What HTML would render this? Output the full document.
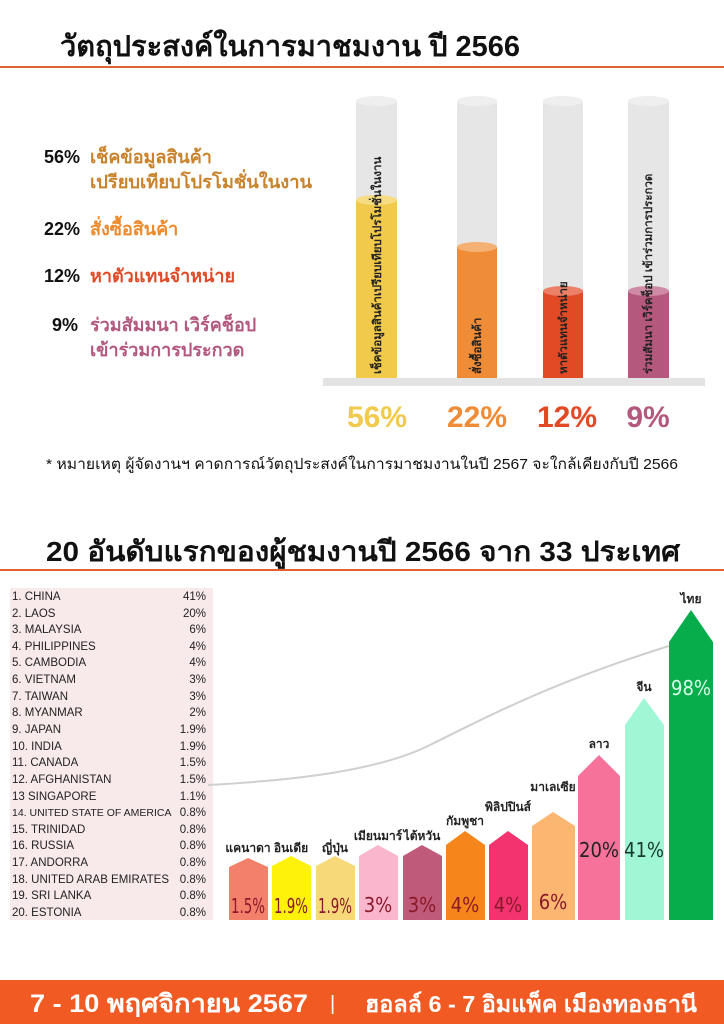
<!DOCTYPE html>
<html><head><meta charset="utf-8"><style>
body{margin:0;width:724px;height:1024px;background:#fff;overflow:hidden;font-family:"Liberation Sans","Noto Sans CJK SC",sans-serif}
svg{display:block}
</style></head><body>
<svg width="724" height="1024" viewBox="0 0 724 1024" xmlns="http://www.w3.org/2000/svg" font-family="'Liberation Sans','Noto Sans CJK SC',sans-serif">
<text x="60" y="56" font-size="29" font-weight="bold" fill="#111" textLength="460" lengthAdjust="spacingAndGlyphs">วัตถุประสงค์ในการมาชมงาน ปี 2566</text>
<rect x="0" y="66" width="724" height="2" fill="#e0622e"/>
<g font-size="18" font-weight="bold">
<text x="44" y="163" fill="#111">56%</text><text x="90" y="163" fill="#c9832c">เช็คข้อมูลสินค้า</text>
<text x="90" y="188" fill="#c9832c" textLength="222" lengthAdjust="spacingAndGlyphs">เปรียบเทียบโปรโมชั่นในงาน</text>
<text x="44" y="235" fill="#111">22%</text><text x="90" y="235" fill="#ec8a2c">สั่งซื้อสินค้า</text>
<text x="44" y="282" fill="#111">12%</text><text x="90" y="282" fill="#e04a26">หาตัวแทนจำหน่าย</text>
<text x="52" y="331" fill="#111">9%</text><text x="90" y="331" fill="#b3587f">ร่วมสัมมนา เวิร์คช็อป</text>
<text x="90" y="356" fill="#b3587f">เข้าร่วมการประกวด</text>
</g>
<g>
<rect x="356" y="101" width="41" height="277" fill="#e6e6e6"/><ellipse cx="376.5" cy="101" rx="20.5" ry="5" fill="#efefef"/>
<rect x="356" y="200" width="41" height="178" fill="#f1c94b"/><ellipse cx="376.5" cy="200" rx="20.5" ry="5" fill="#f6dc82"/>
<rect x="457" y="101" width="40" height="277" fill="#e6e6e6"/><ellipse cx="477" cy="101" rx="20" ry="5" fill="#efefef"/>
<rect x="457" y="247" width="40" height="131" fill="#ef8c37"/><ellipse cx="477" cy="247" rx="20" ry="5" fill="#f5b074"/>
<rect x="543" y="101" width="40" height="277" fill="#e6e6e6"/><ellipse cx="563" cy="101" rx="20" ry="5" fill="#efefef"/>
<rect x="543" y="291" width="40" height="87" fill="#e24a26"/><ellipse cx="563" cy="291" rx="20" ry="5" fill="#ec8066"/>
<rect x="628" y="101" width="41" height="277" fill="#e6e6e6"/><ellipse cx="648.5" cy="101" rx="20.5" ry="5" fill="#efefef"/>
<rect x="628" y="291" width="41" height="87" fill="#b5587e"/><ellipse cx="648.5" cy="291" rx="20.5" ry="5" fill="#cf8aa6"/>
</g>
<rect x="323" y="378" width="382" height="8" fill="#e3e3e3"/>
<g font-size="11.5" font-weight="bold" fill="#222">
<text transform="translate(381,374) rotate(-90)">เช็คข้อมูลสินค้าเปรียบเทียบโปรโมชั่นในงาน</text>
<text transform="translate(481,374) rotate(-90)">สั่งซื้อสินค้า</text>
<text transform="translate(567,374) rotate(-90)">หาตัวแทนจำหน่าย</text>
<text transform="translate(652,374) rotate(-90)">ร่วมสัมนา เวิร์คช็อป เข้าร่วมการประกวด</text>
</g>
<g font-size="30" font-weight="bold" text-anchor="middle">
<text x="377" y="427" fill="#f1c94b">56%</text>
<text x="477" y="427" fill="#ef8c37">22%</text>
<text x="567" y="427" fill="#e24a26">12%</text>
<text x="648" y="427" fill="#b5587e">9%</text>
</g>
<text x="46" y="469" font-size="15" fill="#111" textLength="632" lengthAdjust="spacingAndGlyphs">* หมายเหตุ ผู้จัดงานฯ คาดการณ์วัตถุประสงค์ในการมาชมงานในปี 2567 จะใกล้เคียงกับปี 2566</text>
<text x="46" y="561" font-size="28" font-weight="bold" fill="#111" textLength="634" lengthAdjust="spacingAndGlyphs">20 อันดับแรกของผู้ชมงานปี 2566 จาก 33 ประเทศ</text>
<rect x="0" y="569" width="724" height="2" fill="#e0622e"/>
<rect x="10" y="588" width="203" height="332" fill="#f8e9ea"/>
<g font-size="11.5" fill="#222">
<text x="12" y="600">1. CHINA</text><text x="206" y="600" text-anchor="end">41%</text>
<text x="12" y="617">2. LAOS</text><text x="206" y="617" text-anchor="end">20%</text>
<text x="12" y="633">3. MALAYSIA</text><text x="206" y="633" text-anchor="end">6%</text>
<text x="12" y="650">4. PHILIPPINES</text><text x="206" y="650" text-anchor="end">4%</text>
<text x="12" y="666">5. CAMBODIA</text><text x="206" y="666" text-anchor="end">4%</text>
<text x="12" y="683">6. VIETNAM</text><text x="206" y="683" text-anchor="end">3%</text>
<text x="12" y="700">7. TAIWAN</text><text x="206" y="700" text-anchor="end">3%</text>
<text x="12" y="716">8. MYANMAR</text><text x="206" y="716" text-anchor="end">2%</text>
<text x="12" y="733">9. JAPAN</text><text x="206" y="733" text-anchor="end">1.9%</text>
<text x="12" y="750">10. INDIA</text><text x="206" y="750" text-anchor="end">1.9%</text>
<text x="12" y="766">11. CANADA</text><text x="206" y="766" text-anchor="end">1.5%</text>
<text x="12" y="783">12. AFGHANISTAN</text><text x="206" y="783" text-anchor="end">1.5%</text>
<text x="12" y="800">13 SINGAPORE</text><text x="206" y="800" text-anchor="end">1.1%</text>
<text x="12" y="816" font-size="10.5">14. UNITED STATE OF AMERICA</text><text x="206" y="816" text-anchor="end">0.8%</text>
<text x="12" y="833">15. TRINIDAD</text><text x="206" y="833" text-anchor="end">0.8%</text>
<text x="12" y="849">16. RUSSIA</text><text x="206" y="849" text-anchor="end">0.8%</text>
<text x="12" y="866">17. ANDORRA</text><text x="206" y="866" text-anchor="end">0.8%</text>
<text x="12" y="883">18. UNITED ARAB EMIRATES</text><text x="206" y="883" text-anchor="end">0.8%</text>
<text x="12" y="899">19. SRI LANKA</text><text x="206" y="899" text-anchor="end">0.8%</text>
<text x="12" y="916">20. ESTONIA</text><text x="206" y="916" text-anchor="end">0.8%</text>
</g>
<path d="M208,785 C300,780 380,770 430,745 C500,710 560,680 669,646" fill="none" stroke="#cfcfcf" stroke-width="2"/>
<g>
<polygon points="229,867 248,858 268,867 268,920 229,920" fill="#f3806a"/>
<polygon points="272,866 291,856 311,866 311,920 272,920" fill="#fff20a"/>
<polygon points="316,866 335,856 355,866 355,920 316,920" fill="#f8d97a"/>
<polygon points="359,856 378,845 398,856 398,920 359,920" fill="#f9b6cd"/>
<polygon points="403,856 422,845 442,856 442,920 403,920" fill="#c05a7a"/>
<polygon points="446,845 465,831 485,845 485,920 446,920" fill="#f6861b"/>
<polygon points="489,845 508,831 528,845 528,920 489,920" fill="#f2336f"/>
<polygon points="532,826 553,812 575,826 575,920 532,920" fill="#fbb672"/>
<polygon points="578,776 599,755 620,776 620,920 578,920" fill="#f7729a"/>
<polygon points="625,725 644,698 664,725 664,920 625,920" fill="#9ff7d5"/>
<polygon points="669,642 691,610 713,642 713,920 669,920" fill="#07ac4b"/>
</g>
<g font-size="12" font-weight="bold" fill="#222" text-anchor="middle">
<text x="248" y="852">แคนาดา</text><text x="291" y="852">อินเดีย</text><text x="335" y="852">ญี่ปุ่น</text>
<text x="378" y="840">เมียนมาร์</text><text x="422" y="840">ไต้หวัน</text>
<text x="465" y="825">กัมพูชา</text><text x="508" y="811">พิลิปปินส์</text>
<text x="553" y="791">มาเลเซีย</text><text x="599" y="748">ลาว</text><text x="644" y="691">จีน</text><text x="691" y="603">ไทย</text>
</g>
<g font-size="20" font-family="'DejaVu Sans Condensed','Liberation Sans Narrow',sans-serif" text-anchor="middle" fill="#8a1a2a">
<text x="248" y="913" textLength="34" lengthAdjust="spacingAndGlyphs">1.5%</text><text x="291" y="913" textLength="34" lengthAdjust="spacingAndGlyphs">1.9%</text><text x="335" y="913" textLength="34" lengthAdjust="spacingAndGlyphs">1.9%</text>
<text x="378" y="912">3%</text><text x="422" y="912">3%</text><text x="465" y="912">4%</text><text x="508" y="912">4%</text><text x="553" y="909">6%</text>
<text x="599" y="857" fill="#222">20%</text><text x="644" y="857" fill="#1a3a2a">41%</text><text x="691" y="695" fill="#d8ffe8">98%</text>
</g>
<rect x="0" y="980" width="724" height="44" fill="#f15a22"/>
<text x="30" y="1012" font-size="25" font-weight="bold" fill="#fff" textLength="278" lengthAdjust="spacingAndGlyphs">7 - 10 พฤศจิกายน 2567</text>
<text x="330" y="1010" font-size="20" fill="#fff">|</text>
<text x="365" y="1012" font-size="23" font-weight="bold" fill="#fff" textLength="332" lengthAdjust="spacingAndGlyphs">ฮอลล์ 6 - 7  อิมแพ็ค เมืองทองธานี</text>
</svg>
</body></html>
